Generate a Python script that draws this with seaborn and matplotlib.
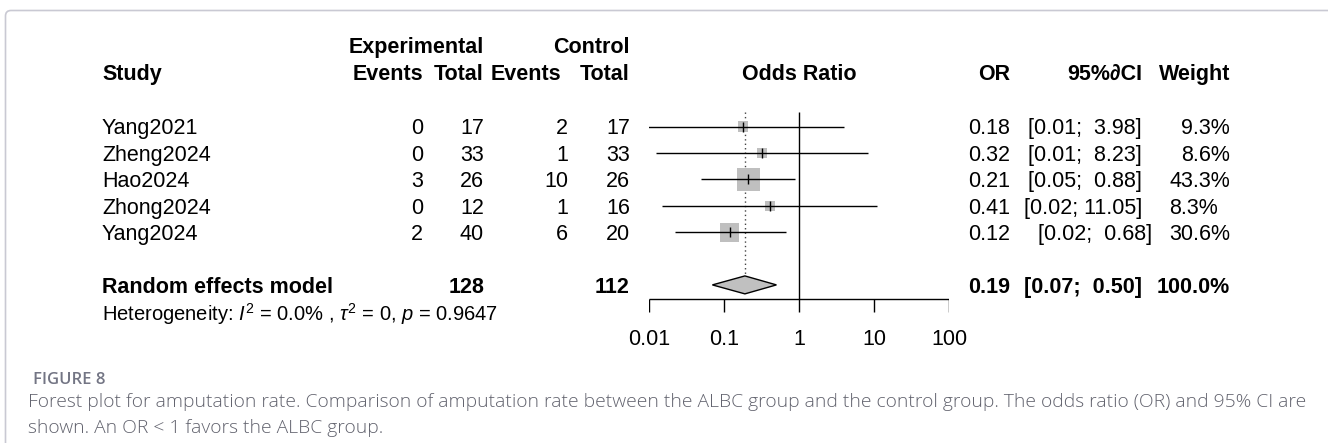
import matplotlib
matplotlib.use("Agg")
import matplotlib.pyplot as plt
import seaborn as sns
import numpy as np
import pandas as pd
from matplotlib import transforms
from matplotlib.path import Path
from matplotlib.patches import PathPatch

# ---------------- data ----------------
studies = ["Yang2021", "Zheng2024", "Hao2024", "Zhong2024", "Yang2024"]
exp_events = [0, 0, 3, 0, 2]
exp_total = [17, 33, 26, 12, 40]
ctrl_events = [2, 1, 10, 1, 6]
ctrl_total = [17, 33, 26, 16, 20]
odds_ratio = [0.18, 0.32, 0.21, 0.41, 0.12]
ci_lower = [0.0078, 0.0125, 0.05, 0.015, 0.022]
ci_upper = [3.98, 8.23, 0.88, 11.05, 0.68]
or_labels = ["0.18", "0.32", "0.21", "0.41", "0.12"]
ci_labels = ["[0.01;  3.98]", "[0.01;  8.23]", "[0.05;  0.88]", "[0.02; 11.05]", "[0.02;  0.68]"]
weights = [9.3, 8.6, 43.3, 8.3, 30.6]
weight_labels = ["9.3%", "8.6%", "43.3%", "8.3%", "30.6%"]
pooled_label = "Random effects model"
pooled_exp_total = 128
pooled_ctrl_total = 112
pooled_or = 0.19
pooled_lo = 0.07
pooled_hi = 0.50
pooled_or_label = "0.19"
pooled_ci_label = "[0.07;  0.50]"
pooled_weight_label = "100.0%"
heterogeneity = r"Heterogeneity: $I^2$ = 0.0% , $\tau^2$ = 0, $p$ = 0.9647"
ticks = [0.01, 0.1, 1, 10, 100]
tick_labels = ["0.01", "0.1", "1", "10", "100"]
caption_title = "FIGURE 8"
caption_line1 = ("Forest plot for amputation rate. Comparison of amputation rate between the ALBC group "
                 "and the control group. The odds ratio (OR) and 95% CI are")
caption_line2 = "shown. An OR < 1 favors the ALBC group."

# ---------------- style ----------------
sns.set_theme(style="white")
FAM = ["Liberation Sans", "DejaVu Sans"]
plt.rcParams["font.family"] = FAM
plt.rcParams["text.color"] = "black"
plt.rcParams["mathtext.fontset"] = "custom"
plt.rcParams["mathtext.rm"] = "Liberation Sans"
plt.rcParams["mathtext.it"] = "Liberation Sans:italic"
plt.rcParams["mathtext.bf"] = "Liberation Sans:bold"

W, H = 1328, 443
DPI = 100
fig = plt.figure(figsize=(W / DPI, H / DPI), dpi=DPI)
fig.patch.set_facecolor("white")

ROW0_PX, ROW_STEP = 126.5, 26.4
y_top = -ROW0_PX / ROW_STEP
y_bot = (H - ROW0_PX) / ROW_STEP

ax = fig.add_axes([649 / W, 0, 300 / W, 1])
ax.set_xscale("log")

rows = np.arange(len(studies))
SUM_ROW = 6
df = pd.DataFrame({"OR": odds_ratio, "row": rows, "weight": weights})

side_k = 3.45 * 72 / DPI  # square side (pt) per sqrt(weight)
sns.scatterplot(data=df, x="OR", y="row", size="weight",
                sizes={w: (side_k ** 2) * w for w in weights},
                marker="s", color="#bfbfbf", linewidth=0, legend=False, ax=ax, zorder=2)
ax.hlines(rows, ci_lower, ci_upper, color="black", lw=1.0, zorder=3)
ax.scatter(odds_ratio, rows, marker="|", s=6.5 ** 2, color="black", linewidths=1.0, zorder=4)

# reference lines
ax.vlines(1, -0.55, 6.53, color="black", lw=1.0, zorder=1)
ax.vlines(pooled_or, -0.55, SUM_ROW - 0.34, color="#444444", lw=1.0,
          linestyles=(0, (1, 2.2)), zorder=1)
# pooled diamond
ax.fill([pooled_lo, pooled_or, pooled_hi, pooled_or],
        [SUM_ROW, SUM_ROW - 0.34, SUM_ROW, SUM_ROW + 0.34],
        facecolor="#c0c0c0", edgecolor="black", lw=1.0, zorder=3)
# x axis
ax.hlines(6.53, ticks[0], ticks[-1], color="black", lw=1.0)
ax.vlines(ticks, 6.53, 7.03, color="black", lw=1.0)

ax.set_xlim(0.01, 100)
ax.set_ylim(y_bot, y_top)
ax.axis("off")

FS = 15.5
cap_half_pt = 0.729 * FS / 2
blend = transforms.blended_transform_factory(fig.transFigure, ax.transData)
tr_txt = transforms.offset_copy(blend, fig=fig, y=-cap_half_pt, units="points")
tr_data = transforms.offset_copy(ax.transData, fig=fig, y=-cap_half_pt, units="points")


def txt(xpx, row, s, ha="right", bold=False, size=FS, dx=0):
    return ax.text((xpx + dx) / W, row, s, transform=tr_txt, ha=ha, va="baseline",
                   fontsize=size, fontweight="bold" if bold else "normal", family=FAM,
                   clip_on=False, color="black")


# column positions (px, right edges unless noted)
X_STUDY = 102
X_EE, X_ET, X_CE, X_CT = 423, 484, 568, 630
X_OR, X_CI, X_W = 1010, 1142, 1230
HDR1, HDR2 = -3.08, -2.06

txt(X_ET, HDR1, "Experimental", bold=True)
txt(X_CT, HDR1, "Control", bold=True)
txt(X_STUDY, HDR2, "Study", ha="left", bold=True)
txt(X_EE, HDR2, "Events", bold=True)
txt(X_ET, HDR2, "Total", bold=True)
txt(561, HDR2, "Events", bold=True)
txt(X_CT, HDR2, "Total", bold=True)
ax.text(1, HDR2, "Odds Ratio", transform=tr_data, ha="center", va="baseline",
        fontsize=FS, fontweight="bold", family=FAM, color="black")
txt(X_OR, HDR2, "OR", bold=True)
txt(X_CI, HDR2, "95%\u2202CI", bold=True)
txt(X_W, HDR2, "Weight", bold=True)

ci_dx = [0, 0, 0, 0, 10]
w_dx = [0, 0, 0, -12, 0]
for i, r in enumerate(rows):
    txt(X_STUDY, r, studies[i], ha="left")
    txt(X_EE, r, str(exp_events[i]))
    txt(X_ET, r, str(exp_total[i]))
    txt(X_CE, r, str(ctrl_events[i]))
    txt(X_CT, r, str(ctrl_total[i]))
    txt(X_OR, r, or_labels[i])
    txt(X_CI, r, ci_labels[i], dx=ci_dx[i])
    txt(X_W, r, weight_labels[i], dx=w_dx[i])

txt(X_STUDY, SUM_ROW, pooled_label, ha="left", bold=True)
txt(X_ET, SUM_ROW, str(pooled_exp_total), bold=True)
txt(X_CT, SUM_ROW, str(pooled_ctrl_total), bold=True)
txt(X_OR, SUM_ROW, pooled_or_label, bold=True)
txt(X_CI, SUM_ROW, pooled_ci_label, bold=True)
txt(X_W, SUM_ROW, pooled_weight_label, bold=True)
t_het = txt(X_STUDY, 7.05, heterogeneity, ha="left")

for t, lab in zip(ticks, tick_labels):
    ax.text(t, 7.97, lab, transform=tr_data, ha="center", va="baseline",
            fontsize=FS, family=FAM, color="black")

# frame (open at the bottom, rounded top-left corner)
def fp(x, y):
    return (x / W, 1 - y / H)

verts = [fp(5.5, H + 5), fp(5.5, 16), fp(5.5, 10.5), fp(11, 10.5), fp(W + 5, 10.5)]
codes = [Path.MOVETO, Path.LINETO, Path.CURVE3, Path.CURVE3, Path.LINETO]
fig.add_artist(PathPatch(Path(verts, codes), transform=fig.transFigure, fill=False,
                         edgecolor="#c9c9d3", lw=1.2))

# caption
CAP_FAM = ["Open Sans", "DejaVu Sans"]
t_title = fig.text(33 / W, 1 - 384 / H, caption_title, ha="left", va="baseline",
                   fontsize=12, fontweight="semibold", family=CAP_FAM, color="#737584")
t1 = fig.text(28 / W, 1 - 407 / H, caption_line1, ha="left", va="baseline",
              fontsize=13, fontweight="light", family=CAP_FAM, color="#62636e")
t2 = fig.text(28 / W, 1 - 433 / H, caption_line2, ha="left", va="baseline",
              fontsize=13, fontweight="light", family=CAP_FAM, color="#62636e")

fig.canvas.draw()
rend = fig.canvas.get_renderer()
w1 = t1.get_window_extent(rend).width
new_fs = 13 * (1267 / w1)
t1.set_fontsize(new_fs)
t2.set_fontsize(new_fs)
wh = t_het.get_window_extent(rend).width
t_het.set_fontsize(FS * (395 / wh))

fig.savefig("out.png", dpi=DPI, facecolor="white")
